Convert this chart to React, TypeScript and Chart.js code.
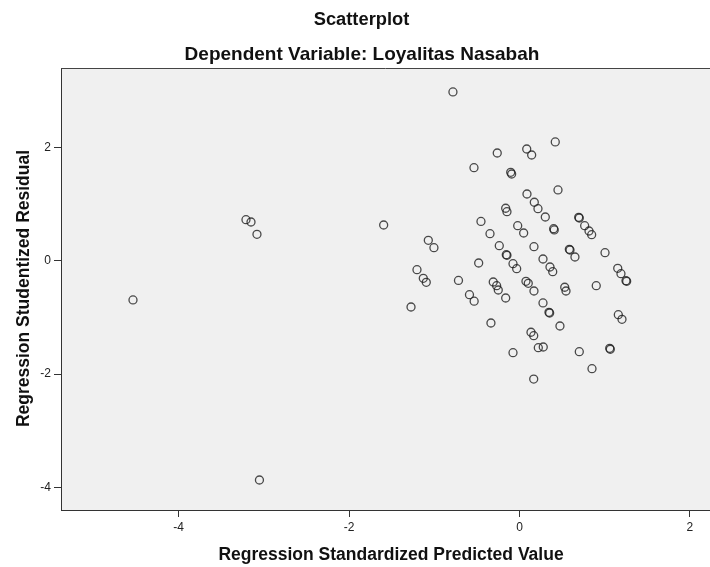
import React, { useEffect, useRef } from "react";
import { Chart, registerables } from "chart.js";

Chart.register(...registerables);

// Regression Standardized Predicted Value (x)
const predicted: number[] = [
  -4.536, -3.21, -3.151, -3.081, -3.052, -1.594, -1.07, -1.004, -1.203, -1.129,
  -1.094, -1.273, -0.781, 0.42, -0.261, 0.085, 0.143, -0.534, -0.103, -0.092,
  0.452, 0.088, 0.174, 0.217, -0.162, -0.147, 0.303, -0.452, -0.021, 0.049,
  -0.346, 0.401, 0.408, 0.695, 0.702, 0.765, 0.816, 0.847, -0.237, -0.155,
  -0.147, -0.076, -0.033, 0.17, 0.276, 0.358, 0.39, 0.585, 0.593, 0.651,
  1.004, -0.479, 1.153, 1.191, 1.25, 1.258, -0.716, -0.308, -0.268, -0.249,
  0.076, 0.103, 0.17, 0.901, 0.531, 0.546, -0.587, -0.532, -0.162, 0.276,
  0.346, 0.354, 1.16, 1.203, -0.335, 0.475, 0.135, 0.167, -0.076, 0.221,
  0.279, 0.702, 1.059, 1.066, 0.851, 0.167,
];

// Regression Studentized Residual (y)
const residual: number[] = [
  -0.693, 0.723, 0.683, 0.466, -3.87, 0.63, 0.36, 0.229, -0.159, -0.311,
  -0.381, -0.817, 2.977, 2.095, 1.9, 1.971, 1.865, 1.641, 1.56, 1.53,
  1.248, 1.177, 1.031, 0.918, 0.925, 0.865, 0.771, 0.692, 0.618, 0.489,
  0.476, 0.565, 0.542, 0.766, 0.753, 0.618, 0.524, 0.459, 0.265, 0.106,
  0.095, -0.053, -0.141, 0.247, 0.03, -0.111, -0.194, 0.201, 0.189, 0.065,
  0.141, -0.041, -0.134, -0.229, -0.353, -0.364, -0.349, -0.376, -0.441, -0.517,
  -0.364, -0.399, -0.535, -0.441, -0.469, -0.535, -0.6, -0.715, -0.658, -0.746,
  -0.911, -0.923, -0.953, -1.034, -1.099, -1.152, -1.263, -1.323, -1.623, -1.535,
  -1.523, -1.606, -1.546, -1.563, -1.906, -2.088,
];

const xTicks: number[] = [-4, -2, 0, 2];
const yTicks: number[] = [-4, -2, 0, 2];
const xRange: number[] = [-5.381, 2.236];
const yRange: number[] = [-4.399, 3.4];

const titleText = "Scatterplot";
const subtitleText = "Dependent Variable: Loyalitas Nasabah";
const xTitleText = "Regression Standardized Predicted Value";
const yTitleText = "Regression Studentized Residual";

const FONT = '"Liberation Sans", Arial, sans-serif';
const TICK_FONT = '"Liberation Sans Narrow", "Liberation Sans", Arial, sans-serif';

const decorPlugin = {
  id: "spssDecor",
  beforeDraw(chart: any) {
    const { ctx, chartArea } = chart;
    ctx.save();
    ctx.fillStyle = "#f0f0f0";
    ctx.fillRect(chartArea.left, chartArea.top, chartArea.right - chartArea.left, chartArea.bottom - chartArea.top);
    ctx.restore();
  },
  afterDraw(chart: any) {
    const { ctx, chartArea } = chart;
    ctx.save();
    // top frame line
    ctx.strokeStyle = "#444";
    ctx.lineWidth = 1;
    ctx.beginPath();
    ctx.moveTo(chartArea.left, chartArea.top + 0.5);
    ctx.lineTo(chartArea.right, chartArea.top + 0.5);
    ctx.stroke();

    ctx.fillStyle = "#111";
    ctx.textAlign = "center";
    ctx.textBaseline = "alphabetic";
    ctx.font = `bold 18.3px ${FONT}`;
    ctx.fillText(titleText, 361.5, 25);
    ctx.font = `bold 19px ${FONT}`;
    ctx.fillText(subtitleText, 362, 60);
    ctx.font = `bold 17.5px ${FONT}`;
    ctx.fillText(xTitleText, 391, 560);
    ctx.translate(29, 288.5);
    ctx.rotate(-Math.PI / 2);
    ctx.fillText(yTitleText, 0, 0);
    ctx.restore();
  },
};

export default function App() {
  const canvasRef = useRef<HTMLCanvasElement | null>(null);

  useEffect(() => {
    const canvas = canvasRef.current;
    if (!canvas) return;
    const points = predicted.map((x, i) => ({ x, y: residual[i] }));
    const axisCommon = {
      type: "linear" as const,
      grid: {
        display: true,
        drawOnChartArea: false,
        drawTicks: true,
        tickLength: 7,
        color: "#333",
        lineWidth: 1,
      },
      border: { display: true, color: "#333", width: 1 },
      ticks: {
        font: { family: TICK_FONT, size: 12 },
        color: "#222",
        padding: 3,
        maxRotation: 0,
        autoSkip: false,
      },
    };
    const chart = new Chart(canvas, {
      type: "scatter",
      data: {
        datasets: [
          {
            data: points,
            pointStyle: "circle",
            pointRadius: 4,
            pointHoverRadius: 4,
            pointBorderWidth: 1.3,
            pointBackgroundColor: "rgba(0,0,0,0)",
            pointBorderColor: "rgba(30,30,30,0.8)",
            showLine: false,
          },
        ],
      },
      options: {
        animation: false,
        responsive: false,
        maintainAspectRatio: false,
        layout: { autoPadding: false, padding: { top: 68, left: 0, right: 0, bottom: 0 } },
        plugins: {
          legend: { display: false },
          tooltip: { enabled: false },
          title: { display: false },
        },
        scales: {
          x: {
            ...axisCommon,
            position: "bottom",
            min: xRange[0],
            max: xRange[1],
            afterBuildTicks: (s: any) => {
              s.ticks = xTicks.map((v) => ({ value: v }));
            },
            afterFit: (s: any) => {
              s.height = 57;
              s.paddingLeft = 0;
              s.paddingRight = 0;
            },
          },
          y: {
            ...axisCommon,
            position: "left",
            min: yRange[0],
            max: yRange[1],
            afterBuildTicks: (s: any) => {
              s.ticks = yTicks.map((v) => ({ value: v }));
            },
            afterFit: (s: any) => {
              s.width = 61;
              s.paddingTop = 0;
              s.paddingBottom = 0;
            },
          },
        },
      } as any,
      plugins: [decorPlugin],
    });
    return () => chart.destroy();
  }, []);

  return (
    <div
      style={{
        position: "fixed",
        left: 0,
        top: 0,
        width: 710,
        height: 567,
        overflow: "hidden",
        background: "#fff",
      }}
    >
      <canvas ref={canvasRef} width={710} height={567} style={{ display: "block" }} />
    </div>
  );
}
